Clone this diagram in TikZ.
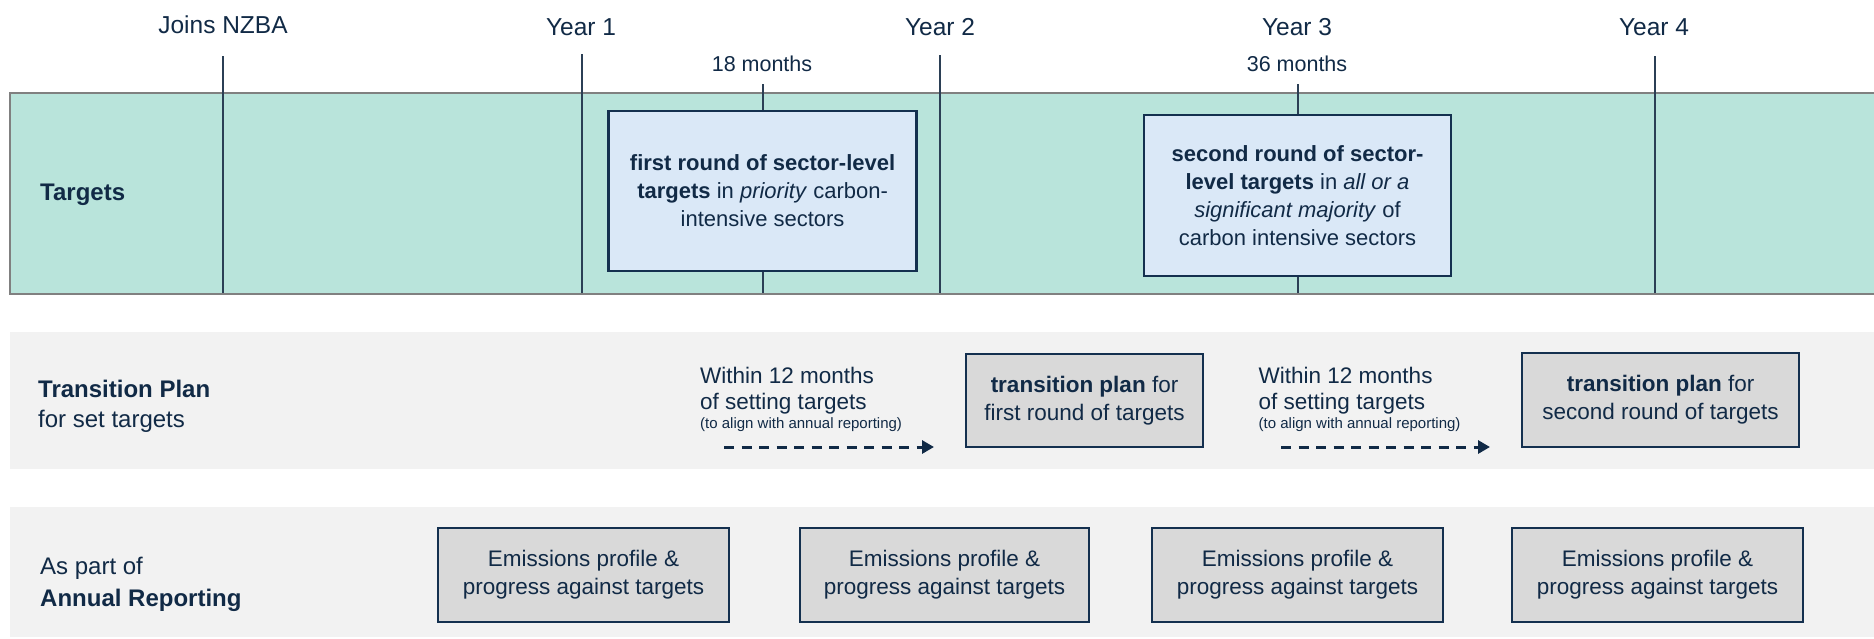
\documentclass[tikz,border=0pt]{standalone}
\usepackage{fontspec}
\setmainfont{Liberation Sans}
\usetikzlibrary{arrows.meta}
\definecolor{txtnavy}{HTML}{112A46}
\definecolor{boxnavy}{HTML}{14304F}
\definecolor{linenavy}{HTML}{2B3F55}
\definecolor{mint}{HTML}{B9E4DB}
\definecolor{lightblue}{HTML}{DAE8F7}
\definecolor{bandgray}{HTML}{F2F2F2}
\definecolor{boxgray}{HTML}{D9D9D9}
\definecolor{bordergray}{HTML}{808080}
\newcommand{\fsz}[2]{\fontsize{#1}{#2}\selectfont}
\tikzset{
  yearlabel/.style={text=txtnavy, font=\fsz{24.5}{29}, inner sep=0pt, anchor=center},
  monthlabel/.style={text=txtnavy, font=\fsz{21.5}{26}, inner sep=0pt, anchor=center},
  rowlabel/.style={text=txtnavy, font=\fsz{24}{29}, inner sep=0pt, anchor=west},
  tickline/.style={draw=linenavy, line width=1.1pt},
  targetbox/.style={draw=boxnavy, line width=2.3pt, fill=lightblue, text=txtnavy,
     font=\fsz{22}{28}, align=center, inner sep=0pt},
  graybox/.style={draw=boxnavy, line width=2.3pt, fill=boxgray, text=txtnavy,
     font=\fsz{22.5}{28}, align=center, inner sep=0pt, minimum height=94pt},
  withintext/.style={text=txtnavy, font=\fsz{22.5}{28}, inner sep=0pt, anchor=west},
  smalltext/.style={text=txtnavy, font=\fsz{15}{18}, inner sep=0pt, anchor=west},
  dasharrow/.style={draw=txtnavy, line width=3pt, dash pattern=on 10pt off 7.5pt,
     -{Triangle[length=12pt,width=13pt]}},
}
\begin{document}
\begin{tikzpicture}[x=1pt,y=-1pt]
\useasboundingbox (0,0) rectangle (1874,638);
% bands
\fill[white] (0,0) rectangle (1874,638);
\filldraw[fill=mint, draw=bordergray, line width=2pt] (10,93) rectangle (1878,294);
\fill[bandgray] (10,332) rectangle (1874,469);
\fill[bandgray] (10,507) rectangle (1874,637);

% top labels
\node[yearlabel] (joins) at (223,25) {Joins NZBA};
\node[yearlabel] (y1) at (581,27) {Year 1};
\node[yearlabel] (y2) at (940,27) {Year 2};
\node[yearlabel] (y3) at (1297,27) {Year 3};
\node[yearlabel] (y4) at (1654,27) {Year 4};
\node[monthlabel] (m18) at (762,64) {18 months};
\node[monthlabel] (m36) at (1297,64) {36 months};

% tick lines
\coordinate (t0a) at (223,56);  \coordinate (t0b) at (223,293);
\coordinate (t1a) at (582,54);  \coordinate (t1b) at (582,293);
\coordinate (t2a) at (940,55);  \coordinate (t2b) at (940,293);
\coordinate (t3a) at (1298,84); \coordinate (t3b) at (1298,293);
\coordinate (t4a) at (1655,56); \coordinate (t4b) at (1655,293);
\coordinate (tma) at (763,84);  \coordinate (tmb) at (763,293);
\foreach \a/\b in {t0a/t0b,t1a/t1b,t2a/t2b,t3a/t3b,t4a/t4b,tma/tmb}
  \draw[tickline] (\a) -- (\b);

% row labels
\node[rowlabel, font=\fsz{24}{29}\bfseries] (targets) at (40,195) {Targets};
\node[rowlabel, font=\fsz{24}{29}\bfseries] (tp1) at (38,389) {Transition Plan};
\node[rowlabel] (tp2) at (38,421) {for set targets};
\node[rowlabel] (ar1) at (40,568) {As part of};
\node[rowlabel, font=\fsz{24}{29}\bfseries] (ar2) at (40,600) {Annual Reporting};

% target boxes
\node[targetbox, minimum width=308pt, minimum height=160pt] (tb1) at (762.6,191)
  {\textbf{first round of sector-level}\\\textbf{targets} in \textit{priority} carbon-\\intensive sectors};
\node[targetbox, minimum width=307pt, minimum height=161pt] (tb2) at (1297.5,195.5)
  {\textbf{second round of sector-}\\\textbf{level targets} in \textit{all or a}\\\textit{significant majority} of\\carbon intensive sectors};

% transition plan row
\node[withintext] (w1a) at (700,375) {Within 12 months};
\node[withintext] (w1b) at (700,404) {of setting targets};
\node[smalltext] (w1c) at (700,425) {(to align with annual reporting)};
\node[withintext] (w2a) at (1258.5,375) {Within 12 months};
\node[withintext] (w2b) at (1258.5,404) {of setting targets};
\node[smalltext] (w2c) at (1258.5,425) {(to align with annual reporting)};
\node[graybox, minimum width=237pt, minimum height=93pt] (tpb1) at (1084.5,400.5)
  {\textbf{transition plan} for\\first round of targets};
\node[graybox, minimum width=277pt] (tpb2) at (1660.5,400)
  {\textbf{transition plan} for\\second round of targets};
\coordinate (a1s) at (724,447); \coordinate (a1e) at (934,447);
\coordinate (a2s) at (1281,447); \coordinate (a2e) at (1490,447);
\draw[dasharrow] (a1s) -- (a1e);
\draw[dasharrow] (a2s) -- (a2e);

% annual reporting boxes
\node[graybox, minimum width=291pt] (e1) at (583.5,575) {Emissions profile \&\\progress against targets};
\node[graybox, minimum width=289pt] (e2) at (944.5,575) {Emissions profile \&\\progress against targets};
\node[graybox, minimum width=291pt] (e3) at (1297.5,575) {Emissions profile \&\\progress against targets};
\node[graybox, minimum width=291pt] (e4) at (1657.5,575) {Emissions profile \&\\progress against targets};
\end{tikzpicture}
\end{document}
